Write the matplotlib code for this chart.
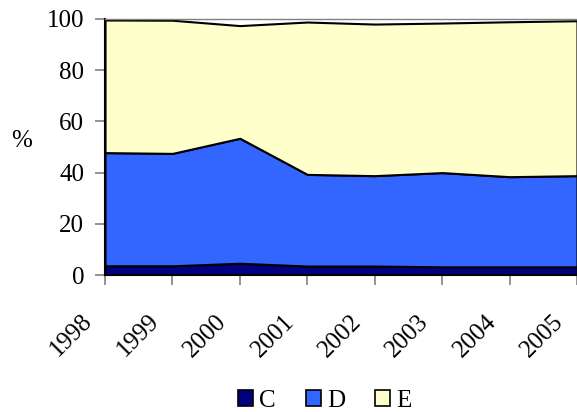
import matplotlib.pyplot as plt
import matplotlib.transforms as mtransforms
from matplotlib.patches import Patch

plt.rcParams['font.family'] = ['Liberation Serif', 'DejaVu Serif']

years = [1998, 1999, 2000, 2001, 2002, 2003, 2004, 2005]
c_vals = [3.6, 3.6, 4.6, 3.5, 3.5, 3.2, 3.2, 3.2]
d_vals = [44.2, 43.9, 48.8, 35.8, 35.3, 36.8, 35.2, 35.6]
e_vals = [51.8, 52.0, 44.0, 59.5, 59.2, 58.4, 60.5, 60.5]
labels = ['C', 'D', 'E']
colors = ['#000080', '#3366FF', '#FFFFCC']

fig = plt.figure(figsize=(5.77, 4.12), dpi=100)
ax = fig.add_axes([0.182, 0.3325, 0.818, 0.6215])

ax.stackplot(years, c_vals, d_vals, e_vals, colors=colors,
             edgecolor='black', linewidth=1.5)

ax.set_xlim(1998, 2005)
ax.set_ylim(0, 100)
ax.set_yticks(range(0, 101, 20))
ax.set_xticks(years)
ax.set_xticklabels([str(y) for y in years], rotation=45, ha='right',
                   va='center', rotation_mode='anchor')
ax.tick_params(axis='both', labelsize=18, color='#808080', length=7,
               width=1.2, direction='out')
ax.tick_params(axis='y', pad=8)
ax.tick_params(axis='x', pad=24)

# nudge the rotated year labels a little to the left
shift = mtransforms.ScaledTranslation(-12 / 72, 0, fig.dpi_scale_trans)
for lbl in ax.get_xticklabels():
    lbl.set_transform(lbl.get_transform() + shift)

for side in ['left', 'bottom']:
    ax.spines[side].set_color('black')
    ax.spines[side].set_linewidth(1.5)
ax.spines['top'].set_color('#808080')
ax.spines['top'].set_linewidth(1.0)
ax.spines['right'].set_visible(False)

fig.text(0.037, 0.657, '%', fontsize=18, ha='center', va='center')

handles = [Patch(facecolor=col, edgecolor='black', linewidth=1.2) for col in colors]
fig.legend(handles, labels, loc='center', bbox_to_anchor=(0.563, 0.027),
           ncol=3, frameon=False, fontsize=18, handlelength=0.6,
           handleheight=0.6, handletextpad=0.25, columnspacing=1.2,
           borderpad=0.1)

fig.savefig('out.png', dpi=100)
